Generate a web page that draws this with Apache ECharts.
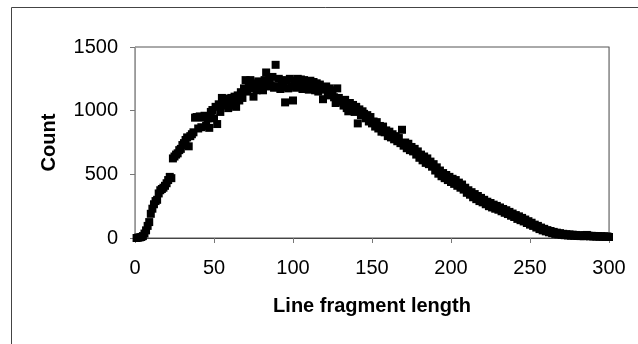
<!DOCTYPE html>
<html>
<head>
<meta charset="utf-8">
<script src="https://cdn.jsdelivr.net/npm/echarts@6/dist/echarts.min.js"></script>
<style>
html,body{margin:0;padding:0;background:#fff;}
#chart{width:638px;height:344px;}
</style>
</head>
<body>
<div id="chart"></div>
<script>
// Line fragment length (x = 1..300) and count values
var xStart = 1;
var counts = [
  0, 3, 5, 8, 15, 35, 60, 95, 125, 190,
  230, 265, 290, 300, 350, 375, 385, 395, 410, 430,
  455, 480, 470, 625, 640, 655, 665, 690, 700, 730,
  745, 770, 790, 720, 800, 815, 830, 945, 950, 860,
  955, 870, 945, 960, 880, 940, 865, 990, 1005, 940,
  1030, 895, 1050, 990, 1100, 1040, 1060, 1095, 1020, 1040,
  1100, 1060, 1110, 1030, 1120, 1080, 1145, 1100, 1175, 1240,
  1150, 1200, 1240, 1175, 1110, 1215, 1160, 1230, 1170, 1210,
  1160, 1240, 1300, 1190, 1250, 1200, 1265, 1180, 1360, 1190,
  1250, 1170, 1240, 1185, 1065, 1235, 1175, 1250, 1190, 1080,
  1235, 1180, 1250, 1195, 1245, 1170, 1240, 1185, 1230, 1165,
  1235, 1170, 1225, 1160, 1215, 1150, 1205, 1175, 1090, 1165,
  1190, 1135, 1175, 1120, 1160, 1105, 1060, 1175, 1100, 1070,
  1075, 1040, 1085, 1020, 995, 1060, 1010, 1045, 990, 1030,
  900, 1010, 965, 995, 975, 940, 965, 915, 950, 900,
  915, 875, 910, 860, 880, 835, 875, 830, 845, 800,
  835, 790, 815, 775, 800, 760, 785, 745, 850, 725,
  750, 705, 740, 690, 715, 680, 700, 655, 680, 630,
  655, 610, 640, 590, 625, 580, 600, 560, 580, 530,
  555, 505, 530, 485, 510, 470, 495, 455, 480, 440,
  465, 425, 455, 410, 435, 395, 420, 380, 395, 355,
  375, 340, 360, 320, 345, 305, 330, 290, 315, 280,
  300, 265, 285, 250, 275, 240, 262, 230, 252, 222,
  240, 210, 228, 198, 218, 188, 205, 175, 192, 165,
  180, 150, 170, 140, 158, 130, 145, 118, 132, 105,
  120, 95, 105, 82, 95, 70, 82, 60, 72, 52,
  62, 45, 55, 38, 48, 32, 42, 28, 38, 25,
  33, 22, 30, 20, 28, 18, 26, 17, 24, 16,
  22, 15, 21, 14, 20, 24, 18, 13, 17, 12,
  16, 11, 15, 10, 14, 10, 13, 9, 12, 8
];
var xTicks = [0, 50, 100, 150, 200, 250, 300];
var yTicks = [0, 500, 1000, 1500];
var xTitle = 'Line fragment length';
var yTitle = 'Count';

var points = counts.map(function (v, i) { return [xStart + i, v]; });

var chart = echarts.init(document.getElementById('chart'), null, {renderer: 'canvas'});
var font = 'Liberation Sans, Arial, Helvetica, sans-serif';
chart.setOption({
  animation: false,
  backgroundColor: '#ffffff',
  graphic: [{
    type: 'rect', silent: true, z: 0,
    shape: {x: 11.5, y: 7.5, width: 700, height: 400},
    style: {fill: 'none', stroke: '#444', lineWidth: 1}
  }],
  grid: {left: 135, right: 29, top: 47, bottom: 106, show: true, borderColor: '#555', borderWidth: 1, backgroundColor: 'transparent'},
  xAxis: {
    type: 'value', min: xTicks[0], max: xTicks[xTicks.length - 1], interval: 50,
    name: xTitle, nameLocation: 'middle', nameGap: 58,
    nameTextStyle: {fontFamily: font, fontSize: 20, fontWeight: 'bold', color: '#000'},
    axisLine: {show: true, lineStyle: {color: '#444', width: 1}},
    axisTick: {show: true, length: 5, lineStyle: {color: '#777'}},
    axisLabel: {fontFamily: font, fontSize: 20, color: '#000', margin: 20},
    splitLine: {show: false}
  },
  yAxis: [{
    type: 'value', min: yTicks[0], max: yTicks[yTicks.length - 1], interval: 500,
    name: yTitle, nameLocation: 'middle', nameGap: 76, nameRotate: 90,
    nameTextStyle: {fontFamily: font, fontSize: 20, fontWeight: 'bold', color: '#000'},
    axisLine: {show: true, lineStyle: {color: '#999', width: 1}},
    axisTick: {show: true, length: 5, lineStyle: {color: '#777'}},
    axisLabel: {fontFamily: font, fontSize: 20, color: '#000', margin: 17,
      formatter: function (v) { return String(v); }},
    splitLine: {show: false}
  }, {
    type: 'value', min: yTicks[0], max: yTicks[yTicks.length - 1], position: 'right',
    axisLine: {show: true, lineStyle: {color: '#999', width: 1}},
    axisTick: {show: false}, axisLabel: {show: false}, splitLine: {show: false}
  }],
  series: [{
    type: 'scatter',
    data: points,
    symbol: 'rect',
    symbolSize: 8,
    itemStyle: {color: '#000', opacity: 1},
    clip: false
  }]
});
</script>
</body>
</html>
